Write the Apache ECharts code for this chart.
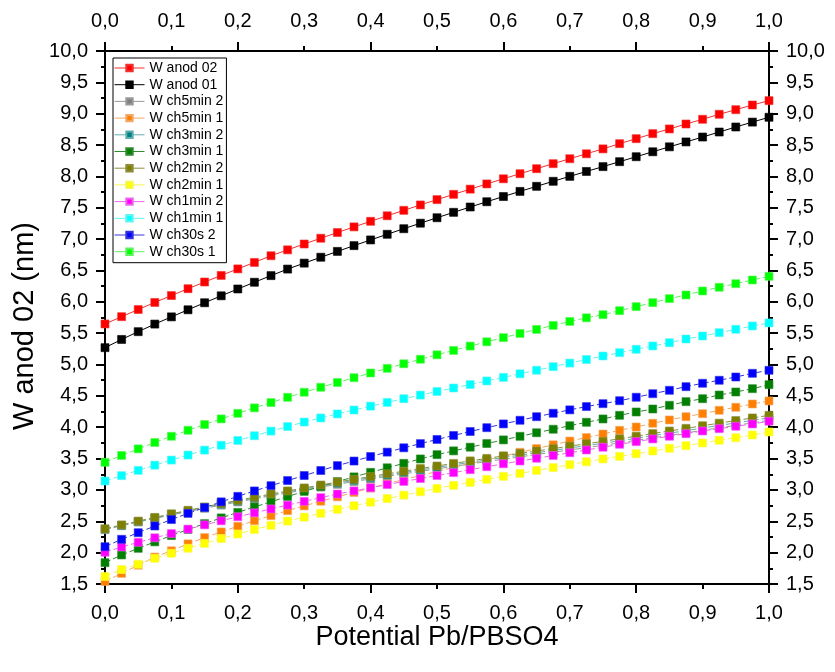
<!DOCTYPE html>
<html>
<head>
<meta charset="utf-8">
<script src="https://cdn.jsdelivr.net/npm/echarts@6/dist/echarts.min.js"></script>
<style>
  html, body { margin: 0; padding: 0; background: #ffffff; }
  #chart { width: 835px; height: 672px; }
</style>
</head>
<body>
<div id="chart"></div>
<script>
// Potential Pb/PbSO4 sample points (x axis)
const potential = [0, 0.025, 0.05, 0.075, 0.1, 0.125, 0.15, 0.175, 0.2, 0.225, 0.25, 0.275, 0.3, 0.325, 0.35, 0.375, 0.4, 0.425, 0.45, 0.475, 0.5, 0.525, 0.55, 0.575, 0.6, 0.625, 0.65, 0.675, 0.7, 0.725, 0.75, 0.775, 0.8, 0.825, 0.85, 0.875, 0.9, 0.925, 0.95, 0.975, 1];

// Width W (nm) for each sample
const wAnod02 = [5.647, 5.763, 5.877, 5.99, 6.1, 6.209, 6.316, 6.421, 6.525, 6.628, 6.735, 6.829, 6.922, 7.014, 7.105, 7.195, 7.284, 7.372, 7.459, 7.545, 7.63, 7.714, 7.797, 7.88, 7.962, 8.043, 8.123, 8.203, 8.282, 8.361, 8.439, 8.522, 8.602, 8.682, 8.757, 8.836, 8.911, 8.991, 9.064, 9.139, 9.208];
const wAnod01 = [5.269, 5.4, 5.524, 5.645, 5.76, 5.873, 5.985, 6.096, 6.205, 6.312, 6.418, 6.522, 6.617, 6.711, 6.804, 6.896, 6.987, 7.077, 7.166, 7.254, 7.341, 7.427, 7.512, 7.596, 7.679, 7.761, 7.842, 7.922, 8.001, 8.079, 8.156, 8.235, 8.314, 8.393, 8.472, 8.55, 8.628, 8.708, 8.788, 8.866, 8.943];
const wCh5min2 = [2.368, 2.428, 2.488, 2.545, 2.6, 2.655, 2.707, 2.758, 2.808, 2.858, 2.906, 2.953, 3.0, 3.045, 3.089, 3.133, 3.175, 3.216, 3.256, 3.297, 3.336, 3.375, 3.414, 3.452, 3.49, 3.528, 3.565, 3.602, 3.638, 3.675, 3.711, 3.751, 3.791, 3.831, 3.87, 3.91, 3.951, 3.99, 4.03, 4.07, 4.11];
const wCh5min1 = [1.54, 1.67, 1.8, 1.93, 2.03, 2.14, 2.24, 2.33, 2.42, 2.51, 2.59, 2.67, 2.745, 2.82, 2.89, 2.96, 3.03, 3.1, 3.165, 3.23, 3.295, 3.36, 3.42, 3.48, 3.54, 3.6, 3.66, 3.72, 3.78, 3.835, 3.892, 3.951, 4.004, 4.063, 4.116, 4.168, 4.216, 4.27, 4.318, 4.371, 4.419];
const wCh3min2 = [2.375, 2.436, 2.496, 2.554, 2.611, 2.666, 2.719, 2.771, 2.822, 2.872, 2.921, 2.969, 3.017, 3.063, 3.108, 3.152, 3.195, 3.237, 3.278, 3.319, 3.36, 3.4, 3.439, 3.478, 3.517, 3.555, 3.593, 3.631, 3.669, 3.706, 3.743, 3.784, 3.824, 3.865, 3.905, 3.946, 3.988, 4.028, 4.069, 4.109, 4.15];
const wCh3min1 = [1.84, 1.963, 2.069, 2.172, 2.272, 2.369, 2.463, 2.554, 2.642, 2.728, 2.812, 2.895, 2.977, 3.056, 3.133, 3.208, 3.281, 3.353, 3.424, 3.494, 3.563, 3.623, 3.682, 3.74, 3.798, 3.855, 3.912, 3.968, 4.024, 4.079, 4.132, 4.19, 4.243, 4.291, 4.35, 4.408, 4.455, 4.514, 4.562, 4.615, 4.679];
const wCh2min2 = [2.38, 2.442, 2.503, 2.562, 2.619, 2.675, 2.729, 2.782, 2.834, 2.885, 2.935, 2.984, 3.032, 3.079, 3.125, 3.17, 3.214, 3.257, 3.299, 3.341, 3.382, 3.423, 3.463, 3.503, 3.543, 3.582, 3.621, 3.66, 3.698, 3.736, 3.774, 3.816, 3.857, 3.899, 3.94, 3.982, 4.024, 4.065, 4.107, 4.148, 4.19];
const wCh2min1 = [1.62, 1.73, 1.815, 1.91, 1.99, 2.07, 2.148, 2.225, 2.297, 2.37, 2.436, 2.503, 2.566, 2.628, 2.69, 2.748, 2.805, 2.862, 2.917, 2.971, 3.024, 3.073, 3.121, 3.169, 3.217, 3.264, 3.311, 3.357, 3.403, 3.449, 3.494, 3.535, 3.578, 3.621, 3.664, 3.706, 3.749, 3.792, 3.833, 3.876, 3.924];
const wCh1min2 = [2.006, 2.09, 2.165, 2.237, 2.305, 2.375, 2.443, 2.508, 2.572, 2.635, 2.697, 2.758, 2.818, 2.877, 2.935, 2.985, 3.035, 3.085, 3.135, 3.182, 3.229, 3.276, 3.323, 3.37, 3.417, 3.461, 3.505, 3.549, 3.593, 3.637, 3.681, 3.728, 3.77, 3.813, 3.856, 3.897, 3.94, 3.977, 4.015, 4.052, 4.095];
const wCh1min1 = [3.143, 3.228, 3.312, 3.395, 3.476, 3.556, 3.635, 3.713, 3.789, 3.864, 3.938, 4.011, 4.083, 4.148, 4.212, 4.275, 4.336, 4.396, 4.455, 4.513, 4.57, 4.626, 4.681, 4.738, 4.795, 4.852, 4.909, 4.966, 5.023, 5.08, 5.136, 5.189, 5.243, 5.296, 5.348, 5.407, 5.455, 5.508, 5.562, 5.615, 5.663];
const wCh30s2 = [2.095, 2.213, 2.318, 2.425, 2.528, 2.626, 2.72, 2.81, 2.898, 2.984, 3.068, 3.15, 3.23, 3.31, 3.388, 3.461, 3.533, 3.603, 3.672, 3.739, 3.805, 3.869, 3.932, 3.993, 4.053, 4.111, 4.168, 4.223, 4.277, 4.33, 4.376, 4.423, 4.478, 4.535, 4.589, 4.647, 4.701, 4.749, 4.801, 4.86, 4.908];
const wCh30s1 = [3.44, 3.55, 3.655, 3.757, 3.856, 3.951, 4.043, 4.133, 4.222, 4.309, 4.394, 4.477, 4.558, 4.637, 4.714, 4.79, 4.865, 4.939, 5.012, 5.084, 5.155, 5.225, 5.294, 5.362, 5.429, 5.495, 5.56, 5.624, 5.687, 5.745, 5.795, 5.859, 5.923, 5.987, 6.051, 6.109, 6.173, 6.232, 6.289, 6.348, 6.407];

const seriesNames = ['W anod 02', 'W anod 01', 'W ch5min 2', 'W ch5min 1', 'W ch3min 2', 'W ch3min 1', 'W ch2min 2', 'W ch2min 1', 'W ch1min 2', 'W ch1min 1', 'W ch30s 2', 'W ch30s 1'];
const seriesValues = [wAnod02, wAnod01, wCh5min2, wCh5min1, wCh3min2, wCh3min1, wCh2min2, wCh2min1, wCh1min2, wCh1min1, wCh30s2, wCh30s1];

const xTitle = 'Potential Pb/PBSO4';
const yTitle = 'W anod 02 (nm)';

// Styling per series: symbol fill, connecting line colour, dashed or solid
const markerColors = ['#ff0000', '#000000', '#808080', '#ff8000', '#008080', '#008000', '#808000', '#ffff00', '#ff00ff', '#00ffff', '#0000ff', '#00ff00'];
const lineColors = ['#f03030', '#000000', '#9a9a9a', '#f2a868', '#62aeae', '#2f8a2f', '#8e8e3e', '#f6f650', '#ec66ec', '#5ef4f4', '#3434dc', '#5ef25e'];
const dashedLine = [false, false, true, true, true, true, true, true, true, true, true, true];

const fontFamily = '"Liberation Sans", Arial, Helvetica, sans-serif';
const commaDecimal = v => v.toFixed(1).replace('.', ',');
const black = '#000000';

function xAxisBase(position, interval, withLabels, tickLength) {
  return {
    type: 'value',
    position: position,
    min: 0,
    max: 1,
    interval: interval,
    axisLine: { show: withLabels, onZero: false, lineStyle: { color: black, width: 2 } },
    axisTick: { show: true, inside: false, length: tickLength, lineStyle: { color: black, width: 2 } },
    axisLabel: {
      show: withLabels,
      formatter: commaDecimal,
      fontSize: 20,
      color: black,
      fontFamily: fontFamily,
      margin: position === 'top' ? 20 : 19
    },
    splitLine: { show: false }
  };
}

function yAxisBase(position) {
  return {
    type: 'value',
    position: position,
    min: 1.5,
    max: 10,
    interval: 0.5,
    axisLine: { show: true, onZero: false, lineStyle: { color: black, width: 2 } },
    axisTick: { show: true, inside: false, length: 9, lineStyle: { color: black, width: 2 } },
    minorTick: { show: true, splitNumber: 2, length: 4, lineStyle: { color: black, width: 2 } },
    axisLabel: {
      formatter: commaDecimal,
      fontSize: 20,
      color: black,
      fontFamily: fontFamily,
      margin: 17
    },
    splitLine: { show: false },
    minorSplitLine: { show: false }
  };
}

const option = {
  animation: false,
  backgroundColor: '#ffffff',
  grid: { left: 105, right: 66, top: 51, bottom: 88, containLabel: false },
  graphic: [
    {
      // horizontal axis title, centred under the plot area
      type: 'text',
      x: 437,
      y: 638,
      style: {
        text: xTitle,
        x: 0,
        y: 0,
        align: 'center',
        verticalAlign: 'middle',
        fontSize: 27,
        fontFamily: fontFamily,
        fill: black
      }
    },
    {
      // vertical axis title, reading bottom to top
      type: 'text',
      x: 25,
      y: 326,
      rotation: Math.PI / 2,
      style: {
        text: yTitle,
        x: 0,
        y: 0,
        align: 'center',
        verticalAlign: 'middle',
        fontSize: 29,
        fontFamily: fontFamily,
        fill: black
      }
    }
  ],
  legend: {
    orient: 'vertical',
    left: 113,
    top: 58,
    padding: [3, 3, 4, 1],
    itemWidth: 30,
    itemHeight: 8,
    itemGap: 2.7,
    borderColor: black,
    borderWidth: 1,
    backgroundColor: '#ffffff',
    selectedMode: false,
    lineStyle: { type: 'solid', width: 1 },
    textStyle: { fontSize: 14, color: black, fontFamily: fontFamily, lineHeight: 14 },
    data: seriesNames
  },
  xAxis: [
    xAxisBase('bottom', 0.1, true, 5),
    xAxisBase('bottom', 0.2, false, 9),
    xAxisBase('top', 0.1, true, 5),
    xAxisBase('top', 0.2, false, 9)
  ],
  yAxis: [yAxisBase('left'), yAxisBase('right')],
  series: seriesNames.map((name, i) => ({
    name: name,
    type: 'line',
    xAxisIndex: 0,
    yAxisIndex: 0,
    data: potential.map((x, k) => [x, seriesValues[i][k]]),
    symbol: 'rect',
    symbolSize: 8,
    showAllSymbol: true,
    itemStyle: { color: markerColors[i], borderColor: lineColors[i], borderWidth: 0.6 },
    lineStyle: { color: lineColors[i], width: 1, type: dashedLine[i] ? [6, 3] : 'solid' },
    emphasis: { disabled: true }
  }))
};

const chart = echarts.init(document.getElementById('chart'), null, { renderer: 'canvas' });
chart.setOption(option);
</script>
</body>
</html>
